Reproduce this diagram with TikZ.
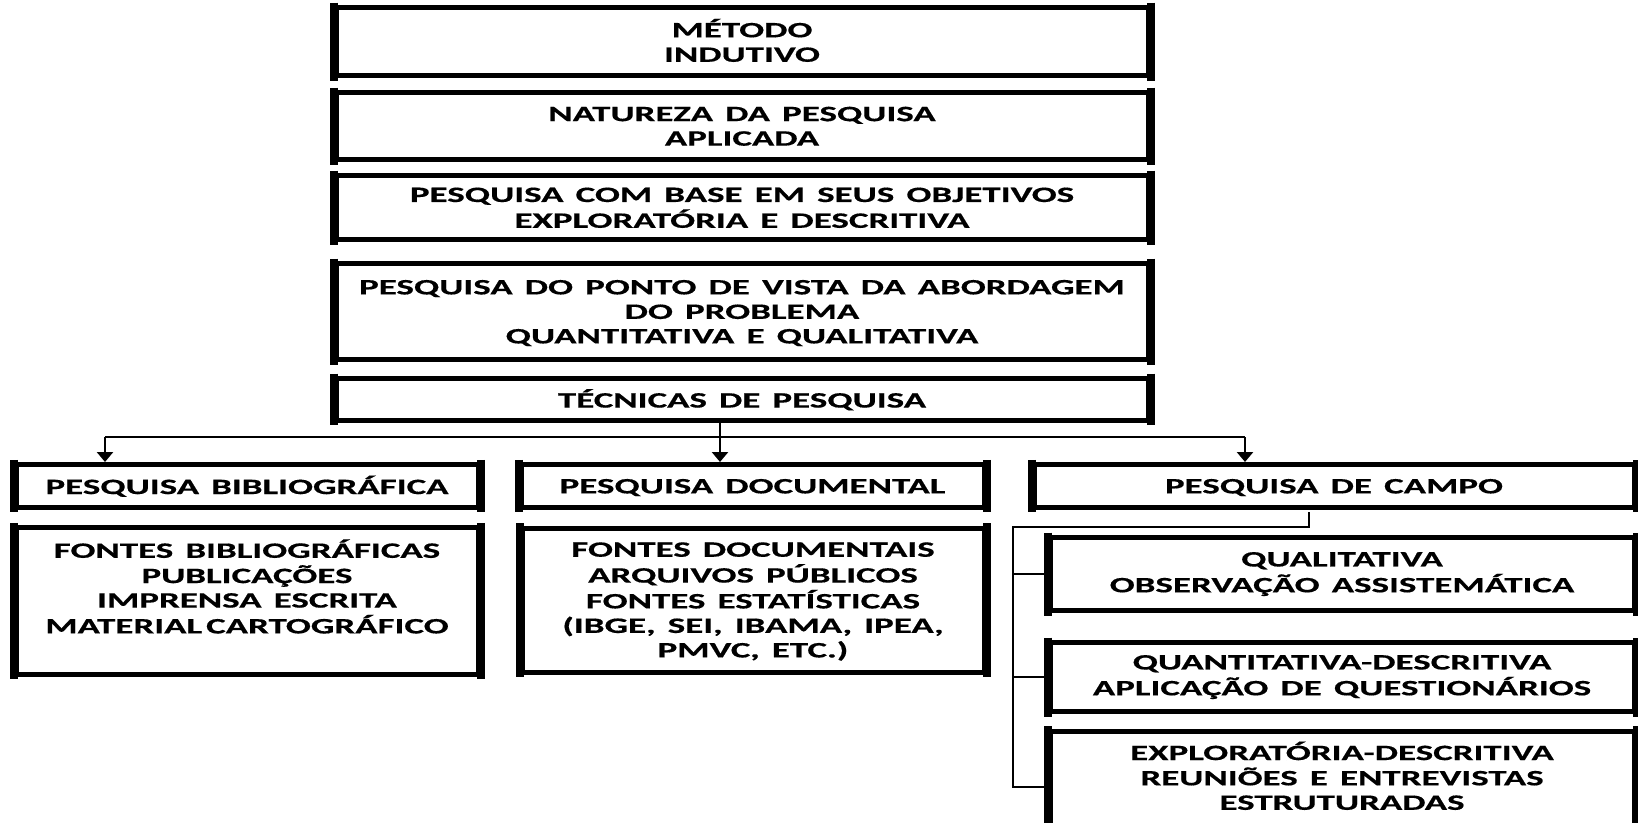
\documentclass[tikz,border=0pt]{standalone}
\usepackage{fontspec}
\newfontfamily\dfont{Carlito}[FakeStretch=1.68, WordSpace=1.45, FakeBold=0.5]
\usetikzlibrary{arrows.meta}
\newcommand{\tx}[1]{\raisebox{-2.5pt}[\height][\depth]{\begin{tabular}{@{}c@{}}#1\end{tabular}}}
\newcommand{\txr}[1]{\raisebox{-0.5pt}[\height][\depth]{\begin{tabular}{@{}c@{}}#1\end{tabular}}}
\tikzset{
  dtext/.style={font=\dfont\bfseries\fontsize{22}{24.5}\selectfont},
  box/.style={draw, line width=5pt, inner sep=0pt, dtext},
  txt/.style={inner sep=0pt, dtext},
  link/.style={line width=2.6pt},
  arr/.style={link, -{Triangle[width=16pt,length=10pt]}},
}
\begin{document}
\begin{tikzpicture}[x=1pt,y=-1pt]
\useasboundingbox (0,0) rectangle (1638,822);
\clip (0,0) rectangle (1638,822);
\fill[white] (0,0) rectangle (1638,822);
% top column
\node[box, minimum width=812, minimum height=68] (b1) at (742,41.5) {\tx{MÉTODO\\INDUTIVO}};
\node[box, minimum width=812, minimum height=67] (b2) at (742,126) {\tx{NATUREZA DA PESQUISA\\APLICADA}};
\node[box, minimum width=812, minimum height=64] (b3) at (742,207.5) {\tx{PESQUISA COM BASE EM SEUS OBJETIVOS\\EXPLORATÓRIA E DESCRITIVA}};
\node[box, minimum width=812, minimum height=96] (b4) at (742,311.5) {\tx{PESQUISA DO PONTO DE VISTA DA ABORDAGEM\\DO PROBLEMA\\QUANTITATIVA E QUALITATIVA}};
\node[box, minimum width=812, minimum height=41.6] (b5) at (742,399.5) {\tx{TÉCNICAS DE PESQUISA}};
% second level
\node[box, minimum width=462, minimum height=42.5] (L2a) at (247,486) {\tx{PESQUISA BIBLIOGRÁFICA}};
\node[box, minimum width=463, minimum height=42.5] (L2b) at (752.5,486) {\tx{PESQUISA DOCUMENTAL}};
\node[box, minimum width=600, minimum height=42.5] (L2c) at (1334,486) {\tx{PESQUISA DE CAMPO}};
% third level
\node[box, minimum width=462, minimum height=146.5] (L3a) at (247,601) {};
\node[txt, anchor=north] (t3a) at ([yshift=-11.4pt]L3a.north) {\tx{FONTES BIBLIOGRÁFICAS\\PUBLICAÇÕES\\IMPRENSA ESCRITA\\MATERIAL\hspace{4pt}CARTOGRÁFICO}};
\node[box, minimum width=462, minimum height=144] (L3b) at (753,600) {};
\node[txt, anchor=north] (t3b) at ([yshift=-11.4pt]L3b.north) {\tx{FONTES DOCUMENTAIS\\ARQUIVOS PÚBLICOS\\FONTES ESTATÍSTICAS\\(IBGE, SEI, IBAMA, IPEA,\\PMVC, ETC.)}};
\node[box, minimum width=584, minimum height=73] (R1) at (1342,574) {\txr{QUALITATIVA\\OBSERVAÇÃO ASSISTEMÁTICA}};
\node[box, minimum width=584, minimum height=69] (R2) at (1342,677) {\txr{QUANTITATIVA-DESCRITIVA\\APLICAÇÃO DE QUESTIONÁRIOS}};
\node[box, minimum width=584, minimum height=169] (R3) at (1342,815.5) {};
\node[txt, anchor=north] (t3r) at ([yshift=-10.4pt]R3.north) {\tx{EXPLORATÓRIA-DESCRITIVA\\REUNIÕES E ENTREVISTAS\\ESTRUTURADAS}};
% thicker vertical edges
\foreach \n in {b1,b2,b3,b4,b5,L2a,L2b,L2c,L3a,L3b,R1,R2,R3}{
  \draw[line width=8pt] ([yshift=2.5pt]\n.north west) -- ([yshift=-2.5pt]\n.south west)
                        ([yshift=2.5pt]\n.north east) -- ([yshift=-2.5pt]\n.south east);
}
% connectors
\coordinate (bus) at (0,437);
\coordinate (tA) at (105,462);
\coordinate (tB) at (720,462);
\coordinate (tC) at (1245,462);
\draw[link] (bus -| tA) -- (bus -| tC);
\draw[arr] (b5.south -| tB) -- (tB);
\draw[arr] (bus -| tA) -- (tA);
\draw[arr] (bus -| tC) -- (tC);
\coordinate (sp) at (1013,527);
\coordinate (spb) at (1013,787);
\draw[link] ([xshift=-25pt,yshift=-2.5pt]L2c.south) |- (sp) -- (spb) -- (spb -| R3.west);
\draw[link] (sp |- R1.west) -- (R1.west);
\draw[link] (sp |- R2.west) -- (R2.west);
\end{tikzpicture}
\end{document}
